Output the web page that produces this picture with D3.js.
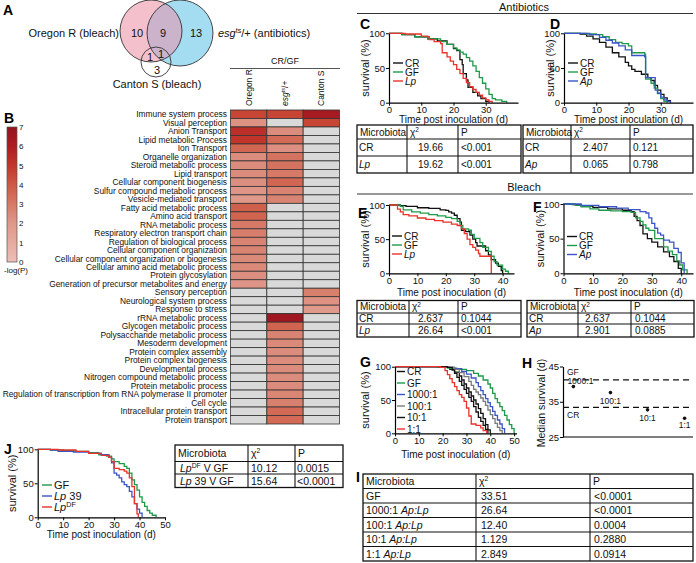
<!DOCTYPE html>
<html><head><meta charset="utf-8">
<script src="https://cdn.jsdelivr.net/npm/d3@7"></script>
<style>
body{margin:0;background:#fff}
svg{font-family:"Liberation Sans",Arial,Helvetica,sans-serif;display:block}
</style></head><body>
<svg id="fig" width="696" height="563"></svg>
<script>
// ================= DATA =================
// Venn (A)
const vennSetLabels = ["Oregon R (bleach)", "<i>esg</i><sup>ts</sup>/+ (antibiotics)", "Canton S (bleach)"];
// regions: OR only, OR∩esg, esg only, OR∩CS, OR∩esg∩CS, CS only
const vennRegionCounts = [10, 9, 13, 1, 1, 3];

// Heatmap (B)
const goTerms = ["Immune system process","Visual perception","Anion Transport","Lipid metabolic Process","Ion Transport",
"Organelle organization","Steroid metabolic process","Lipid transport","Cellular component biogenesis",
"Sulfur compound metabolic process","Vesicle-mediated transport","Fatty acid metabolic process","Amino acid transport",
"RNA metabolic process","Respiratory electron transport chain","Regulation of biological process",
"Cellular component organization","Cellular component organization or biogenesis","Cellular amino acid metabolic process",
"Protein glycosylation","Generation of precursor metabolites and energy","Sensory perception","Neurological system process",
"Response to stress","rRNA metabolic process","Glycogen metabolic process","Polysaccharide metabolic process",
"Mesoderm development","Protein complex assembly","Protein complex biogenesis","Developmental process",
"Nitrogen compound metabolic process","Protein metabolic process",
"Regulation of transcription from RNA polymerase II promoter","Cell cycle","Intracellular protein transport","Protein transport"];
const heatColumns = ["Oregon R", "<i>esg</i><sup>ts</sup>/+", "Canton S"];
const N = null;
const oregonR = [4.6,2.2,5.3,5.1,3.6,2.4,2.4,2.4,2.3,2.1,2.0,3.8,3.7,3.0,2.9,2.7,2.7,2.5,2.5,2.3,2.1,N,N,N,N,N,N,N,N,N,N,N,N,N,N,N,N];
const esgTs   = [4.6,N,2.4,3.5,2.3,3.2,3.2,3.0,3.6,2.7,2.7,N,N,N,N,N,N,N,N,N,N,N,N,N,6.6,3.7,2.7,2.5,2.4,2.4,2.4,2.4,2.4,2.6,2.8,3.5,3.5];
const cantonS = [6.3,4.6,N,N,N,N,N,N,N,N,N,N,N,N,N,N,N,N,N,N,N,2.8,2.2,1.9,N,N,N,N,N,N,N,N,N,N,N,N,N];
const colorbarTicks = [0,1,2,3,4,5,6,7];

// Survival curves: [day, survival %]
const C_CR = [[0,100],[4,98],[8,95],[12,92],[15,89],[18,84],[20,78],[21,75],[22,62],[22.7,55],[23,42],[24,33],[24.5,22],[26,15],[27.5,10],[28.5,6],[30,2],[31,0]];
const C_GF = [[0,100],[4,98],[8,95],[12,92],[16,88],[18,84],[20,79],[21,76],[22,73],[23,70],[24,65],[25,60],[26,53],[27,45],[28,36],[29,28],[30,20],[31,12],[32,6],[33,4],[35,2],[36.5,0]];
const C_Lp = [[0,100],[5,99],[10,96],[12,95],[12.5,91],[14,88],[16,85],[16.5,72],[18,66],[19,60],[20,55],[21,48],[22,42],[23,35],[24,29],[25,23],[26,19],[27,15],[28,11],[29,7],[30,4],[31,2],[32,0]];

const D_CR = [[0,100],[5,99],[7,96],[9,92],[11,87],[13,80],[15,72],[17,66],[19,58],[20,53],[21,48],[22,45],[24,41],[26,36],[27,32],[28,25],[29,18],[30,12],[31,7],[32,3],[33,0]];
const D_GF = [[0,100],[7,99],[10,98],[12,95],[14,91],[16,87],[18,85],[20,82],[21,72],[25,70],[25.3,34],[27,28],[28,21],[29,13],[30,6],[31,2],[32,0]];
const D_Ap = [[0,100],[8,98],[11,94],[13,90],[15,86],[17,82],[19,76],[21,68],[25,66],[25.3,36],[28,36],[28.3,18],[29,14],[30,8],[31,4],[32,2],[33,0]];

const E_CR = [[0,100],[4,99],[6,98],[10,96],[14,95],[18,93],[20,92],[21,90],[22,88],[23,85],[24,80],[25,75],[25.5,63],[27,61],[28.5,56],[29.5,50],[30.5,45],[31,40],[33,40],[34,33],[35,27],[36,20],[37.5,15],[38.5,10],[39.5,4],[40,0]];
const E_GF = [[0,100],[4,98],[5,93],[8,90],[11,88],[14,86],[17,84],[20,82],[22,80],[24,76],[25,70],[26,65],[28,63],[29,57],[30,51],[32,45],[33,38],[35,32],[36,25],[37,17],[38,12],[40,6],[41,3],[42,0]];
const E_Lp = [[0,100],[3,94],[4,90],[5,86],[7,84],[10,81],[13,79],[16,77],[19,75],[22,72],[24,70],[25.5,65],[26.5,58],[27.5,50],[28.5,42],[29.5,38],[30.5,34],[31.5,29],[32,25],[35.5,25],[36,0]];

const F_CR = [[0,100],[3,99],[6,97],[10,95],[15,93],[20,91],[23,89],[24,82],[25,76],[26,69],[27,57],[28.5,50],[30,45],[32,38],[34,31],[36,24],[37.5,17],[39,7],[40,0]];
const F_GF = [[0,100],[4,98],[6,96],[9,93],[12,91],[16,90],[20,89],[23,88],[24.5,80],[26,75],[27,70],[28,65],[29,62],[31,50],[34,38],[35.5,32],[37,27],[38.5,18],[39.5,12],[40.5,5],[42,0]];
const F_Ap = [[0,100],[6,98],[12,96],[18,94],[22,92],[26,89],[28,87],[29,80],[30,72],[31,65],[32,58],[33,55],[34,48],[36,45],[37.5,36],[39,30],[40,15],[41,0]];

const G_CR    = [[0,100],[20,99],[23,96],[25,92],[27,86],[28,80],[29,74],[30,68],[31,62],[32,56],[33,50],[34,44],[35,37],[36,30],[37,22],[38,13],[39,5],[40,0]];
const G_GF    = [[0,100],[18,99],[22,98],[26,96],[30,94],[33,90],[35,86],[37,80],[39,74],[40,68],[41,60],[42,52],[43,46],[44,40],[45,34],[46,27],[47,20],[48,13],[49,7],[50,0]];
const G_1000  = [[0,100],[20,99],[25,97],[28,93],[30,89],[32,83],[34,76],[35,70],[36,64],[37,58],[38,52],[39,46],[40,40],[41,33],[42,27],[43,20],[44,14],[45,7],[46,0]];
const G_100   = [[0,100],[22,99],[25,96],[27,91],[29,85],[31,78],[32,72],[33,66],[34,62],[35,58],[36,53],[37,48],[38,42],[39,35],[40,28],[41,22],[42,15],[43,9],[44,4],[45,0]];
const G_10    = [[0,100],[22,99],[24,95],[25,90],[26,84],[27,78],[28,72],[29,66],[30,60],[31,54],[32,48],[33,40],[34,32],[35,24],[36,18],[37,12],[38,6],[39,0]];
const G_1     = [[0,100],[19,99],[21,94],[22,88],[23,82],[24,76],[25,70],[26,64],[27,58],[28,54],[29,48],[30,38],[31,26],[32,14],[34,12],[36,8],[37,4],[38.5,0]];

const hCategories = ["1000:1","100:1","10:1","1:1"];
const hMedians = [39.3, 37.6, 32.7, 30.3];
const hGFMedian = 41.2, hCRMedian = 33.4;

const J_GF   = [[0,100],[5,99],[10,98],[15,97],[20,95],[24,92],[27,90],[29,86],[30,82],[32,79],[34,75],[35,72],[36,65],[37,55],[38,48],[39,40],[40,30],[41,22],[42,16],[43,10],[44,6],[45,3],[46.5,0]];
const J_Lp39 = [[0,100],[5,99],[8,97],[14,96],[20,94],[25,92],[28,88],[29,80],[30,65],[31,62],[32,58],[33,52],[34,48],[35,45],[36,38],[37,30],[38,20],[39,12],[40,6],[41,0]];
const J_LpDF = [[0,100],[3,100],[8,99],[15,97],[20,94],[25,91],[28,88],[29,82],[30,72],[32,70],[34,68],[35,65],[36,58],[37,45],[38,20],[39,5],[39.5,0]];

// Tables
const tableHeader = ["Microbiota","χ<sup>2</sup>","P"];
const tableC = [["CR","19.66","<0.001"],["<i>Lp</i>","19.62","<0.001"]];
const tableD = [["CR","2.407","0.121"],["<i>Ap</i>","0.065","0.798"]];
const tableE = [["CR","2.637","0.1044"],["<i>Lp</i>","26.64","<0.001"]];
const tableF = [["CR","2.637","0.1044"],["<i>Ap</i>","2.901","0.0885"]];
const tableI = [["GF","33.51","<0.0001"],["1000:1 <i>Ap:Lp</i>","26.64","<0.0001"],["100:1 <i>Ap:Lp</i>","12.40","0.0004"],["10:1 <i>Ap:Lp</i>","1.129","0.2880"],["1:1 <i>Ap:Lp</i>","2.849","0.0914"]];
const tableJ = [["<i>Lp</i><sup>DF</sup> V GF","10.12","0.0015"],["<i>Lp</i> 39 V GF","15.64","<0.0001"]];

// ================= DRAWING =================
const svg = d3.select("#fig");
const BLACK="#111", GREEN="#1f9a4a", RED="#e8322a", BLUE="#3a55c8", GRAY="#7a7a7a";

function rich(sel, str, fs){
  const parts = str.split(/(<\/?i>|<\/?sup>)/);
  let it=false, sup=false, shifted=false;
  parts.forEach(p=>{
    if(p==="<i>"){it=true;return;} if(p==="</i>"){it=false;return;}
    if(p==="<sup>"){sup=true;return;} if(p==="</sup>"){sup=false;return;}
    if(!p) return;
    const t = sel.append("tspan").text(p);
    if(it) t.attr("font-style","italic");
    if(sup){ t.attr("font-size", fs*0.65); if(!shifted){ t.attr("dy", -fs*0.38); shifted=true; } }
    else if(shifted){ t.attr("dy", fs*0.38); shifted=false; }
  });
  return sel;
}
function txt(x,y,str,fs,anchor){
  const t = svg.append("text").attr("x",x).attr("y",y).attr("font-size",fs).attr("text-anchor",anchor||"start").attr("fill","#111");
  return rich(t,str,fs);
}

// Panel letters
[["A",3,15],["B",4,123],["C",360,29],["D",550,29],["E",358,218],["F",533,212],["G",360,367],["H",522,368],["I",356,482],["J",4,454]]
 .forEach(([l,x,y])=>svg.append("text").attr("x",x).attr("y",y).attr("font-size",14).attr("font-weight","bold").text(l));

// ---------- A: Venn ----------
const vc = [{cx:151,cy:31,r:31},{cx:180,cy:33,r:33},{cx:156,cy:62,r:15}];
const defs = svg.append("defs");
defs.append("clipPath").attr("id","clipOR").append("circle").attr("cx",vc[0].cx).attr("cy",vc[0].cy).attr("r",vc[0].r);
svg.append("circle").attr("cx",vc[0].cx).attr("cy",vc[0].cy).attr("r",vc[0].r).attr("fill","#f4c0cc");
svg.append("circle").attr("cx",vc[1].cx).attr("cy",vc[1].cy).attr("r",vc[1].r).attr("fill","#a4dcf2");
svg.append("circle").attr("cx",vc[1].cx).attr("cy",vc[1].cy).attr("r",vc[1].r).attr("fill","#cbb3cc").attr("clip-path","url(#clipOR)");
vc.forEach(c=>svg.append("circle").attr("cx",c.cx).attr("cy",c.cy).attr("r",c.r).attr("fill","none").attr("stroke","#333").attr("stroke-width",0.9));
const vennPos = [[137,37],[163,37],[196,37],[150,61],[161,58],[157,74]];
vennRegionCounts.forEach((v,i)=>txt(vennPos[i][0],vennPos[i][1],String(v),11,"middle"));
txt(119,37,vennSetLabels[0],11,"end");
txt(218,37,vennSetLabels[1],11,"start");
txt(157,88,vennSetLabels[2],11,"middle");

// ---------- B: Heatmap ----------
const heatVals = [oregonR, esgTs, cantonS];
const heatColor = d3.scaleLinear().domain(colorbarTicks)
  .range(["#ecbfb7","#e6ab9f","#df988a","#d67a67","#cd5a45","#c2372b","#ad1c22","#951420"]);
const hx = d3.scaleBand().domain(d3.range(heatColumns.length)).range([230.5,339.5]);
const hy = d3.scaleBand().domain(goTerms).range([110,424]);
heatVals.forEach((col,ci)=>{
  col.forEach((v,ri)=>{
    svg.append("rect").attr("x",hx(ci)).attr("y",hy(goTerms[ri])).attr("width",hx.bandwidth()).attr("height",hy.bandwidth())
      .attr("fill", v==null ? "#d9d9d9" : heatColor(v)).attr("stroke","#333").attr("stroke-width",0.8);
  });
});
goTerms.forEach(t=>txt(227,hy(t)+hy.bandwidth()/2+3,t,8.4,"end"));
heatColumns.forEach((c,ci)=>{
  const t = svg.append("text").attr("font-size",8.5).attr("text-anchor","start").attr("fill","#111")
    .attr("transform",`translate(${hx(ci)+hx.bandwidth()/2+3},106) rotate(-90)`);
  rich(t,c,8.5);
});
txt(285,64,"CR/GF",9,"middle");
svg.append("line").attr("x1",230).attr("x2",340).attr("y1",68.5).attr("y2",68.5).attr("stroke","#555").attr("stroke-width",1);
// colorbar
const cb = d3.scaleLinear().domain([0,7]).range([262,127]);
const grad = defs.append("linearGradient").attr("id","cbg").attr("x1",0).attr("y1",1).attr("x2",0).attr("y2",0);
colorbarTicks.forEach(v=>grad.append("stop").attr("offset",v/7).attr("stop-color",heatColor(v)));
svg.append("rect").attr("x",7).attr("y",cb(7)).attr("width",10).attr("height",cb(0)-cb(7)).attr("fill","url(#cbg)").attr("stroke","#555").attr("stroke-width",0.7);
colorbarTicks.forEach(v=>txt(19,cb(v)+3,String(v),8,"start"));
txt(4,273,"-log(P)",8,"start");

// ---------- section headers ----------
txt(524,10.5,"Antibiotics",11,"middle");
svg.append("line").attr("x1",357).attr("x2",693).attr("y1",13.5).attr("y2",13.5).attr("stroke","#333").attr("stroke-width",1.2);
txt(524,191,"Bleach",11,"middle");
svg.append("line").attr("x1",357).attr("x2",693).attr("y1",194).attr("y2",194).attr("stroke","#333").attr("stroke-width",1.2);

// ---------- survival panels ----------
function styleAxis(g,fs){
  g.attr("color","#000").attr("font-family",'"Liberation Sans",Arial,sans-serif').attr("font-size",fs);
  g.selectAll("path.domain").attr("stroke-width",1.2);
  g.selectAll(".tick line").attr("stroke-width",1);
  g.selectAll(".tick text").attr("fill","#111");
}
function survPanel(o){
  const x = d3.scaleLinear().domain(o.xd).range([o.x0,o.x1]);
  const y = d3.scaleLinear().domain([0,100]).range([o.yb,o.yt]);
  const line = d3.line().x(d=>x(d[0])).y(d=>y(d[1])).curve(d3.curveStepAfter);
  const g = svg.append("g");
  o.series.forEach(s=>g.append("path").attr("d",line(s.data)).attr("fill","none").attr("stroke",s.color).attr("stroke-width",1.3));
  const ax = svg.append("g").attr("transform",`translate(0,${o.yb})`)
    .call(d3.axisBottom(x).tickValues(o.xt).tickSize(3).tickSizeOuter(0).tickPadding(1));
  styleAxis(ax,9.5);
  const ay = svg.append("g").attr("transform",`translate(${o.x0},0)`)
    .call(d3.axisLeft(y).tickValues([0,50,100]).tickSize(3).tickSizeOuter(0).tickPadding(1));
  styleAxis(ay,9.5);
  txt((o.x0+o.x1)/2, o.xtitleY, "Time post inoculation (d)", 10, "middle");
  svg.append("text").attr("font-size",11).attr("text-anchor","middle").attr("fill","#111")
    .attr("transform",`translate(${o.ytitleX},${(o.yb+o.yt)/2}) rotate(-90)`).text("survival (%)");
  o.series.forEach((s,i)=>{
    const ly = o.leg.y + i*o.leg.dy;
    svg.append("line").attr("x1",o.leg.x).attr("x2",o.leg.x+o.leg.len).attr("y1",ly).attr("y2",ly).attr("stroke",s.color).attr("stroke-width",1.4);
    txt(o.leg.x+o.leg.len+2, ly+o.leg.fs*0.36, s.label, o.leg.fs, "start");
  });
}
survPanel({x0:389,x1:518,xd:[0,40],xt:[0,10,20,30],yb:102.7,yt:33.3,xtitleY:122.5,ytitleX:369,
  leg:{x:393,y:63,dy:9,len:10,fs:10},
  series:[{label:"CR",color:BLACK,data:C_CR},{label:"GF",color:GREEN,data:C_GF},{label:"<i>Lp</i>",color:RED,data:C_Lp}]});
survPanel({x0:564,x1:693,xd:[0,40],xt:[0,10,20,30],yb:102.7,yt:33.3,xtitleY:122.5,ytitleX:554,
  leg:{x:568,y:63,dy:9,len:10,fs:10},
  series:[{label:"CR",color:BLACK,data:D_CR},{label:"GF",color:GREEN,data:D_GF},{label:"<i>Ap</i>",color:BLUE,data:D_Ap}]});
survPanel({x0:389,x1:514,xd:[0,44],xt:[0,10,20,30,40],yb:273.3,yt:205,xtitleY:296,ytitleX:369,
  leg:{x:392,y:236,dy:9,len:10,fs:10},
  series:[{label:"CR",color:BLACK,data:E_CR},{label:"GF",color:GREEN,data:E_GF},{label:"<i>Lp</i>",color:RED,data:E_Lp}]});
survPanel({x0:563.5,x1:693,xd:[0,44],xt:[0,10,20,30,40],yb:273.3,yt:204,xtitleY:296,ytitleX:544,
  leg:{x:567,y:236.5,dy:9,len:10,fs:10},
  series:[{label:"CR",color:BLACK,data:F_CR},{label:"GF",color:GREEN,data:F_GF},{label:"<i>Ap</i>",color:BLUE,data:F_Ap}]});
survPanel({x0:395,x1:516.5,xd:[0,51],xt:[0,10,20,30,40,50],yb:433.3,yt:366.7,xtitleY:458,ytitleX:369,
  leg:{x:397,y:371.5,dy:11.5,len:8,fs:10},
  series:[{label:"CR",color:BLACK,data:G_CR},{label:"GF",color:GREEN,data:G_GF},{label:"1000:1",color:BLUE,data:G_1000},
          {label:"100:1",color:GRAY,data:G_100},{label:"10:1",color:BLACK,data:G_10},{label:"1:1",color:RED,data:G_1}]});
survPanel({x0:37.7,x1:165,xd:[0,50],xt:[0,10,20,30,40,50],yb:517.3,yt:449.3,xtitleY:538,ytitleX:16,
  leg:{x:42,y:485,dy:11,len:10,fs:11},
  series:[{label:"GF",color:GREEN,data:J_GF},{label:"<i>Lp</i> 39",color:BLUE,data:J_Lp39},{label:"<i>Lp</i><sup>DF</sup>",color:RED,data:J_LpDF}]});

// ---------- H: medians ----------
{
  const x = d3.scalePoint().domain(hCategories).range([563,695]).padding(0.28);
  const y = d3.scaleLinear().domain([25,45]).range([437,366.5]);
  const ay = svg.append("g").attr("transform","translate(563,0)")
    .call(d3.axisLeft(y).tickValues([25,35,45]).tickSize(3).tickSizeOuter(0).tickPadding(1));
  styleAxis(ay,9.5);
  svg.append("line").attr("x1",563).attr("x2",693).attr("y1",y(25)).attr("y2",y(25)).attr("stroke","#000").attr("stroke-width",1.2);
  [[hGFMedian,"GF",-5],[hCRMedian,"CR",11]].forEach(([v,l,off])=>{
    svg.append("line").attr("x1",563).attr("x2",693).attr("y1",y(v)).attr("y2",y(v)).attr("stroke","#111").attr("stroke-width",1.4).attr("stroke-dasharray","6,4");
    txt(567,y(v)+off,l,8.5,"start");
  });
  const lblOff = [[-6,-2.5,"start"],[0,11.5,"middle"],[0,11.5,"middle"],[0,10,"middle"]];
  hCategories.forEach((c,i)=>{
    svg.append("circle").attr("cx",x(c)).attr("cy",y(hMedians[i])).attr("r",1.8).attr("fill","#111");
    txt(x(c)+lblOff[i][0], y(hMedians[i])+lblOff[i][1], c, 8.5, lblOff[i][2]);
  });
  svg.append("text").attr("font-size",10.5).attr("text-anchor","middle").attr("fill","#111")
    .attr("transform","translate(545,403) rotate(-90)").text("Median survival (d)");
}

// ---------- tables ----------
function drawTable(cols, rows, data, pads, fs){
  const all = [tableHeader].concat(data);
  const g = svg.append("g");
  g.append("rect").attr("x",cols[0]).attr("y",rows[0]).attr("width",cols[cols.length-1]-cols[0]).attr("height",rows[rows.length-1]-rows[0])
    .attr("fill","none").attr("stroke","#111").attr("stroke-width",1.3);
  cols.slice(1,-1).forEach(cx=>g.append("line").attr("x1",cx).attr("x2",cx).attr("y1",rows[0]).attr("y2",rows[rows.length-1]).attr("stroke","#111").attr("stroke-width",1.1));
  rows.slice(1,-1).forEach(ry=>g.append("line").attr("x1",cols[0]).attr("x2",cols[cols.length-1]).attr("y1",ry).attr("y2",ry).attr("stroke","#111").attr("stroke-width",1.1));
  all.forEach((r,ri)=>r.forEach((cell,ci)=>{
    const pad = ri===0 ? 3 : pads[ci];
    txt(cols[ci]+pad, (rows[ri]+rows[ri+1])/2+fs*0.36, cell, fs, "start");
  }));
}
drawTable([357,407,458,521],[125,139,156,173],tableC,[2,11,3],10);
drawTable([523,571,630,693],[125,139,156,173],tableD,[2,12,3],10);
drawTable([357,409,458,521],[300.5,313,324,337],tableE,[2,9,3],10);
drawTable([527,578,631,694],[300.5,313,324,337],tableF,[2,7,4],10);
drawTable([363,476,590,693],[474,488.5,503,517.5,532,546.5,561],tableI,[3,5,4],10.5);
drawTable([175,248,295,343],[445,461.5,474,487.5],tableJ,[5,3,2],10.5);
</script>
</body></html>
